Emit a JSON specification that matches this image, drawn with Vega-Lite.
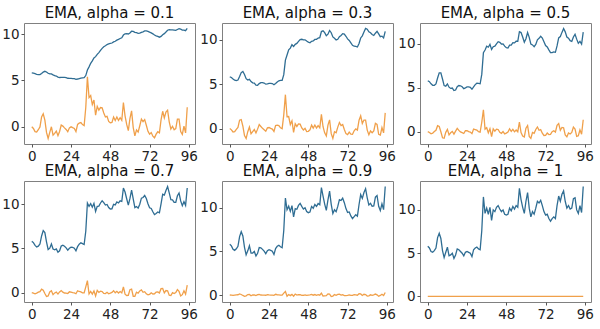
{
"$schema": "https://vega.github.io/schema/vega-lite/v6.json",
"padding": {"left": 1, "top": 5, "right": 4, "bottom": 0},
"data": {"values": [
{"x":0,"s":5.8,"t1":5.80,"r1":0,"t3":5.80,"r3":0,"t5":5.80,"r5":0,"t7":5.80,"r7":0,"t9":5.80,"r9":0,"r10":0},
{"x":1,"s":5.6,"t1":5.78,"r1":-0.18,"t3":5.74,"r3":-0.14,"t5":5.70,"r5":-0.10,"t7":5.66,"r7":-0.06,"t9":5.62,"r9":-0.02,"r10":0},
{"x":2,"s":5.2,"t1":5.72,"r1":-0.52,"t3":5.58,"r3":-0.38,"t5":5.45,"r5":-0.25,"t7":5.34,"r7":-0.14,"t9":5.24,"r9":-0.04,"r10":0},
{"x":3,"s":5.1,"t1":5.66,"r1":-0.56,"t3":5.44,"r3":-0.34,"t5":5.28,"r5":-0.18,"t7":5.17,"r7":-0.07,"t9":5.11,"r9":-0.01,"r10":0},
{"x":4,"s":5.3,"t1":5.62,"r1":-0.32,"t3":5.39,"r3":-0.09,"t5":5.29,"r5":0.01,"t7":5.26,"r7":0.04,"t9":5.28,"r9":0.02,"r10":0},
{"x":5,"s":5.6,"t1":5.62,"r1":-0.02,"t3":5.46,"r3":0.14,"t5":5.44,"r5":0.16,"t7":5.50,"r7":0.10,"t9":5.57,"r9":0.03,"r10":0},
{"x":6,"s":6.8,"t1":5.74,"r1":1.06,"t3":5.86,"r3":0.94,"t5":6.12,"r5":0.68,"t7":6.41,"r7":0.39,"t9":6.68,"r9":0.12,"r10":0},
{"x":7,"s":7.3,"t1":5.90,"r1":1.40,"t3":6.29,"r3":1.01,"t5":6.71,"r5":0.59,"t7":7.03,"r7":0.27,"t9":7.24,"r9":0.06,"r10":0},
{"x":8,"s":6.7,"t1":5.98,"r1":0.72,"t3":6.41,"r3":0.29,"t5":6.71,"r5":-0.01,"t7":6.80,"r7":-0.10,"t9":6.75,"r9":-0.05,"r10":0},
{"x":9,"s":5.3,"t1":5.91,"r1":-0.61,"t3":6.08,"r3":-0.78,"t5":6.00,"r5":-0.70,"t7":5.75,"r7":-0.45,"t9":5.45,"r9":-0.15,"r10":0},
{"x":10,"s":4.5,"t1":5.77,"r1":-1.27,"t3":5.61,"r3":-1.11,"t5":5.25,"r5":-0.75,"t7":4.88,"r7":-0.38,"t9":4.60,"r9":-0.09,"r10":0},
{"x":11,"s":5.1,"t1":5.70,"r1":-0.60,"t3":5.45,"r3":-0.35,"t5":5.18,"r5":-0.08,"t7":5.03,"r7":0.07,"t9":5.05,"r9":0.05,"r10":0},
{"x":12,"s":5.7,"t1":5.70,"r1":0.00,"t3":5.53,"r3":0.17,"t5":5.44,"r5":0.26,"t7":5.50,"r7":0.20,"t9":5.64,"r9":0.07,"r10":0},
{"x":13,"s":4.7,"t1":5.60,"r1":-0.90,"t3":5.28,"r3":-0.58,"t5":5.07,"r5":-0.37,"t7":4.94,"r7":-0.24,"t9":4.79,"r9":-0.09,"r10":0},
{"x":14,"s":4.8,"t1":5.52,"r1":-0.72,"t3":5.14,"r3":-0.34,"t5":4.93,"r5":-0.13,"t7":4.84,"r7":-0.04,"t9":4.80,"r9":0.00,"r10":0},
{"x":15,"s":5.0,"t1":5.47,"r1":-0.47,"t3":5.10,"r3":-0.10,"t5":4.97,"r5":0.03,"t7":4.95,"r7":0.05,"t9":4.98,"r9":0.02,"r10":0},
{"x":16,"s":4.4,"t1":5.36,"r1":-0.96,"t3":4.89,"r3":-0.49,"t5":4.68,"r5":-0.28,"t7":4.57,"r7":-0.17,"t9":4.46,"r9":-0.06,"r10":0},
{"x":17,"s":4.8,"t1":5.31,"r1":-0.51,"t3":4.86,"r3":-0.06,"t5":4.74,"r5":0.06,"t7":4.73,"r7":0.07,"t9":4.77,"r9":0.03,"r10":0},
{"x":18,"s":5.5,"t1":5.33,"r1":0.18,"t3":5.05,"r3":0.45,"t5":5.12,"r5":0.38,"t7":5.27,"r7":0.23,"t9":5.43,"r9":0.07,"r10":0},
{"x":19,"s":5.4,"t1":5.33,"r1":0.07,"t3":5.16,"r3":0.24,"t5":5.26,"r5":0.14,"t7":5.36,"r7":0.04,"t9":5.40,"r9":0.00,"r10":0},
{"x":20,"s":5.2,"t1":5.32,"r1":-0.12,"t3":5.17,"r3":0.03,"t5":5.23,"r5":-0.03,"t7":5.25,"r7":-0.05,"t9":5.22,"r9":-0.02,"r10":0},
{"x":21,"s":5.0,"t1":5.29,"r1":-0.29,"t3":5.12,"r3":-0.12,"t5":5.12,"r5":-0.12,"t7":5.07,"r7":-0.07,"t9":5.02,"r9":-0.02,"r10":0},
{"x":22,"s":4.7,"t1":5.23,"r1":-0.53,"t3":4.99,"r3":-0.29,"t5":4.91,"r5":-0.21,"t7":4.81,"r7":-0.11,"t9":4.73,"r9":-0.03,"r10":0},
{"x":23,"s":5.1,"t1":5.22,"r1":-0.12,"t3":5.03,"r3":0.08,"t5":5.00,"r5":0.10,"t7":5.01,"r7":0.09,"t9":5.06,"r9":0.04,"r10":0},
{"x":24,"s":5.2,"t1":5.21,"r1":-0.01,"t3":5.08,"r3":0.12,"t5":5.10,"r5":0.10,"t7":5.14,"r7":0.06,"t9":5.19,"r9":0.01,"r10":0},
{"x":25,"s":5.1,"t1":5.20,"r1":-0.10,"t3":5.08,"r3":0.02,"t5":5.10,"r5":0.00,"t7":5.11,"r7":-0.01,"t9":5.11,"r9":-0.01,"r10":0},
{"x":26,"s":5.0,"t1":5.18,"r1":-0.18,"t3":5.06,"r3":-0.06,"t5":5.05,"r5":-0.05,"t7":5.03,"r7":-0.03,"t9":5.01,"r9":-0.01,"r10":0},
{"x":27,"s":4.6,"t1":5.12,"r1":-0.52,"t3":4.92,"r3":-0.32,"t5":4.83,"r5":-0.23,"t7":4.73,"r7":-0.13,"t9":4.64,"r9":-0.04,"r10":0},
{"x":28,"s":5.4,"t1":5.15,"r1":0.25,"t3":5.07,"r3":0.34,"t5":5.11,"r5":0.29,"t7":5.20,"r7":0.20,"t9":5.32,"r9":0.08,"r10":0},
{"x":29,"s":5.6,"t1":5.20,"r1":0.40,"t3":5.23,"r3":0.38,"t5":5.36,"r5":0.24,"t7":5.48,"r7":0.12,"t9":5.57,"r9":0.03,"r10":0},
{"x":30,"s":5.7,"t1":5.25,"r1":0.45,"t3":5.37,"r3":0.33,"t5":5.53,"r5":0.17,"t7":5.63,"r7":0.07,"t9":5.69,"r9":0.01,"r10":0},
{"x":31,"s":5.5,"t1":5.27,"r1":0.23,"t3":5.41,"r3":0.09,"t5":5.51,"r5":-0.01,"t7":5.54,"r7":-0.04,"t9":5.52,"r9":-0.02,"r10":0},
{"x":32,"s":5.4,"t1":5.29,"r1":0.12,"t3":5.41,"r3":-0.01,"t5":5.46,"r5":-0.06,"t7":5.44,"r7":-0.04,"t9":5.41,"r9":-0.01,"r10":0},
{"x":33,"s":7.6,"t1":5.52,"r1":2.08,"t3":6.06,"r3":1.54,"t5":6.53,"r5":1.07,"t7":6.95,"r7":0.65,"t9":7.38,"r9":0.22,"r10":0},
{"x":34,"s":11.5,"t1":6.12,"r1":5.39,"t3":7.69,"r3":3.81,"t5":9.01,"r5":2.49,"t7":10.14,"r7":1.36,"t9":11.09,"r9":0.41,"r10":0},
{"x":35,"s":9.6,"t1":6.46,"r1":3.14,"t3":8.27,"r3":1.33,"t5":9.31,"r5":0.29,"t7":9.76,"r7":-0.16,"t9":9.75,"r9":-0.15,"r10":0},
{"x":36,"s":10.2,"t1":6.84,"r1":3.36,"t3":8.85,"r3":1.35,"t5":9.75,"r5":0.45,"t7":10.07,"r7":0.13,"t9":10.16,"r9":0.05,"r10":0},
{"x":37,"s":9.5,"t1":7.10,"r1":2.40,"t3":9.04,"r3":0.46,"t5":9.63,"r5":-0.13,"t7":9.67,"r7":-0.17,"t9":9.57,"r9":-0.07,"r10":0},
{"x":38,"s":10.3,"t1":7.42,"r1":2.88,"t3":9.42,"r3":0.88,"t5":9.96,"r5":0.34,"t7":10.11,"r7":0.19,"t9":10.23,"r9":0.07,"r10":0},
{"x":39,"s":8.8,"t1":7.56,"r1":1.24,"t3":9.23,"r3":-0.43,"t5":9.38,"r5":-0.58,"t7":9.19,"r7":-0.39,"t9":8.94,"r9":-0.14,"r10":0},
{"x":40,"s":10.0,"t1":7.81,"r1":2.20,"t3":9.46,"r3":0.54,"t5":9.69,"r5":0.31,"t7":9.76,"r7":0.24,"t9":9.89,"r9":0.11,"r10":0},
{"x":41,"s":9.8,"t1":8.00,"r1":1.80,"t3":9.57,"r3":0.24,"t5":9.75,"r5":0.05,"t7":9.79,"r7":0.01,"t9":9.81,"r9":-0.01,"r10":0},
{"x":42,"s":10.3,"t1":8.23,"r1":2.07,"t3":9.79,"r3":0.52,"t5":10.02,"r5":0.28,"t7":10.15,"r7":0.15,"t9":10.25,"r9":0.05,"r10":0},
{"x":43,"s":10.5,"t1":8.46,"r1":2.04,"t3":10.00,"r3":0.50,"t5":10.26,"r5":0.24,"t7":10.39,"r7":0.11,"t9":10.48,"r9":0.03,"r10":0},
{"x":44,"s":10.1,"t1":8.63,"r1":1.48,"t3":10.03,"r3":0.07,"t5":10.18,"r5":-0.08,"t7":10.19,"r7":-0.09,"t9":10.14,"r9":-0.04,"r10":0},
{"x":45,"s":9.8,"t1":8.74,"r1":1.06,"t3":9.96,"r3":-0.16,"t5":9.99,"r5":-0.19,"t7":9.92,"r7":-0.12,"t9":9.83,"r9":-0.03,"r10":0},
{"x":46,"s":10.0,"t1":8.87,"r1":1.13,"t3":9.97,"r3":0.03,"t5":10.00,"r5":0.01,"t7":9.98,"r7":0.03,"t9":9.98,"r9":0.02,"r10":0},
{"x":47,"s":9.5,"t1":8.93,"r1":0.57,"t3":9.83,"r3":-0.33,"t5":9.75,"r5":-0.25,"t7":9.64,"r7":-0.14,"t9":9.55,"r9":-0.05,"r10":0},
{"x":48,"s":9.4,"t1":8.98,"r1":0.42,"t3":9.70,"r3":-0.30,"t5":9.57,"r5":-0.17,"t7":9.47,"r7":-0.07,"t9":9.42,"r9":-0.02,"r10":0},
{"x":49,"s":9.5,"t1":9.03,"r1":0.47,"t3":9.64,"r3":-0.14,"t5":9.54,"r5":-0.04,"t7":9.49,"r7":0.01,"t9":9.49,"r9":0.01,"r10":0},
{"x":50,"s":10.2,"t1":9.15,"r1":1.05,"t3":9.81,"r3":0.39,"t5":9.87,"r5":0.33,"t7":9.99,"r7":0.21,"t9":10.13,"r9":0.07,"r10":0},
{"x":51,"s":9.9,"t1":9.22,"r1":0.68,"t3":9.84,"r3":0.06,"t5":9.88,"r5":0.02,"t7":9.93,"r7":-0.03,"t9":9.92,"r9":-0.02,"r10":0},
{"x":52,"s":10.4,"t1":9.34,"r1":1.06,"t3":10.01,"r3":0.40,"t5":10.14,"r5":0.26,"t7":10.26,"r7":0.14,"t9":10.35,"r9":0.05,"r10":0},
{"x":53,"s":10.1,"t1":9.42,"r1":0.68,"t3":10.03,"r3":0.07,"t5":10.12,"r5":-0.02,"t7":10.15,"r7":-0.05,"t9":10.13,"r9":-0.03,"r10":0},
{"x":54,"s":10.5,"t1":9.52,"r1":0.98,"t3":10.17,"r3":0.33,"t5":10.31,"r5":0.19,"t7":10.39,"r7":0.11,"t9":10.46,"r9":0.04,"r10":0},
{"x":55,"s":10.3,"t1":9.60,"r1":0.70,"t3":10.21,"r3":0.09,"t5":10.31,"r5":-0.01,"t7":10.33,"r7":-0.03,"t9":10.32,"r9":-0.02,"r10":0},
{"x":56,"s":12.5,"t1":9.89,"r1":2.61,"t3":10.90,"r3":1.60,"t5":11.40,"r5":1.10,"t7":11.85,"r7":0.65,"t9":12.28,"r9":0.22,"r10":0},
{"x":57,"s":11.2,"t1":10.02,"r1":1.18,"t3":10.99,"r3":0.21,"t5":11.30,"r5":-0.10,"t7":11.39,"r7":-0.19,"t9":11.31,"r9":-0.11,"r10":0},
{"x":58,"s":10.3,"t1":10.05,"r1":0.25,"t3":10.78,"r3":-0.48,"t5":10.80,"r5":-0.50,"t7":10.63,"r7":-0.33,"t9":10.40,"r9":-0.10,"r10":0},
{"x":59,"s":9.6,"t1":10.01,"r1":-0.41,"t3":10.43,"r3":-0.83,"t5":10.20,"r5":-0.60,"t7":9.91,"r7":-0.31,"t9":9.68,"r9":-0.08,"r10":0},
{"x":60,"s":11.0,"t1":10.11,"r1":0.90,"t3":10.60,"r3":0.40,"t5":10.60,"r5":0.40,"t7":10.67,"r7":0.33,"t9":10.87,"r9":0.13,"r10":0},
{"x":61,"s":12.0,"t1":10.30,"r1":1.71,"t3":11.02,"r3":0.98,"t5":11.30,"r5":0.70,"t7":11.60,"r7":0.40,"t9":11.89,"r9":0.11,"r10":0},
{"x":62,"s":10.2,"t1":10.29,"r1":-0.09,"t3":10.77,"r3":-0.57,"t5":10.75,"r5":-0.55,"t7":10.62,"r7":-0.42,"t9":10.37,"r9":-0.17,"r10":0},
{"x":63,"s":9.2,"t1":10.18,"r1":-0.98,"t3":10.30,"r3":-1.10,"t5":9.98,"r5":-0.78,"t7":9.63,"r7":-0.43,"t9":9.32,"r9":-0.12,"r10":0},
{"x":64,"s":9.8,"t1":10.14,"r1":-0.34,"t3":10.15,"r3":-0.35,"t5":9.89,"r5":-0.09,"t7":9.75,"r7":0.05,"t9":9.75,"r9":0.05,"r10":0},
{"x":65,"s":9.5,"t1":10.08,"r1":-0.58,"t3":9.96,"r3":-0.46,"t5":9.69,"r5":-0.19,"t7":9.57,"r7":-0.07,"t9":9.53,"r9":-0.03,"r10":0},
{"x":66,"s":10.2,"t1":10.09,"r1":0.11,"t3":10.03,"r3":0.17,"t5":9.95,"r5":0.25,"t7":10.01,"r7":0.19,"t9":10.13,"r9":0.07,"r10":0},
{"x":67,"s":11.0,"t1":10.18,"r1":0.82,"t3":10.32,"r3":0.68,"t5":10.47,"r5":0.53,"t7":10.70,"r7":0.30,"t9":10.91,"r9":0.09,"r10":0},
{"x":68,"s":10.8,"t1":10.24,"r1":0.56,"t3":10.46,"r3":0.34,"t5":10.64,"r5":0.16,"t7":10.77,"r7":0.03,"t9":10.81,"r9":-0.01,"r10":0},
{"x":69,"s":11.1,"t1":10.33,"r1":0.77,"t3":10.66,"r3":0.45,"t5":10.87,"r5":0.23,"t7":11.00,"r7":0.10,"t9":11.07,"r9":0.03,"r10":0},
{"x":70,"s":10.5,"t1":10.34,"r1":0.16,"t3":10.61,"r3":-0.11,"t5":10.68,"r5":-0.18,"t7":10.65,"r7":-0.15,"t9":10.56,"r9":-0.06,"r10":0},
{"x":71,"s":9.8,"t1":10.29,"r1":-0.49,"t3":10.37,"r3":-0.57,"t5":10.24,"r5":-0.44,"t7":10.06,"r7":-0.26,"t9":9.88,"r9":-0.08,"r10":0},
{"x":72,"s":9.4,"t1":10.20,"r1":-0.80,"t3":10.08,"r3":-0.68,"t5":9.82,"r5":-0.42,"t7":9.60,"r7":-0.20,"t9":9.45,"r9":-0.05,"r10":0},
{"x":73,"s":9.5,"t1":10.13,"r1":-0.63,"t3":9.90,"r3":-0.40,"t5":9.66,"r5":-0.16,"t7":9.53,"r7":-0.03,"t9":9.50,"r9":0.01,"r10":0},
{"x":74,"s":9.0,"t1":10.02,"r1":-1.02,"t3":9.63,"r3":-0.63,"t5":9.33,"r5":-0.33,"t7":9.16,"r7":-0.16,"t9":9.05,"r9":-0.05,"r10":0},
{"x":75,"s":8.7,"t1":9.89,"r1":-1.19,"t3":9.35,"r3":-0.65,"t5":9.02,"r5":-0.32,"t7":8.84,"r7":-0.14,"t9":8.74,"r9":-0.04,"r10":0},
{"x":76,"s":9.0,"t1":9.80,"r1":-0.80,"t3":9.25,"r3":-0.25,"t5":9.01,"r5":-0.01,"t7":8.95,"r7":0.05,"t9":8.97,"r9":0.03,"r10":0},
{"x":77,"s":9.2,"t1":9.74,"r1":-0.54,"t3":9.23,"r3":-0.03,"t5":9.10,"r5":0.10,"t7":9.13,"r7":0.08,"t9":9.18,"r9":0.02,"r10":0},
{"x":78,"s":9.0,"t1":9.66,"r1":-0.66,"t3":9.16,"r3":-0.16,"t5":9.05,"r5":-0.05,"t7":9.04,"r7":-0.04,"t9":9.02,"r9":-0.02,"r10":0},
{"x":79,"s":10.5,"t1":9.75,"r1":0.75,"t3":9.56,"r3":0.94,"t5":9.78,"r5":0.72,"t7":10.06,"r7":0.44,"t9":10.35,"r9":0.15,"r10":0},
{"x":80,"s":11.6,"t1":9.93,"r1":1.67,"t3":10.18,"r3":1.43,"t5":10.69,"r5":0.91,"t7":11.14,"r7":0.46,"t9":11.48,"r9":0.12,"r10":0},
{"x":81,"s":11.0,"t1":10.04,"r1":0.96,"t3":10.42,"r3":0.58,"t5":10.84,"r5":0.16,"t7":11.04,"r7":-0.04,"t9":11.05,"r9":-0.05,"r10":0},
{"x":82,"s":11.8,"t1":10.22,"r1":1.59,"t3":10.84,"r3":0.96,"t5":11.32,"r5":0.48,"t7":11.57,"r7":0.23,"t9":11.73,"r9":0.08,"r10":0},
{"x":83,"s":12.2,"t1":10.41,"r1":1.79,"t3":11.25,"r3":0.96,"t5":11.76,"r5":0.44,"t7":12.01,"r7":0.19,"t9":12.15,"r9":0.05,"r10":0},
{"x":84,"s":11.0,"t1":10.47,"r1":0.53,"t3":11.17,"r3":-0.17,"t5":11.38,"r5":-0.38,"t7":11.30,"r7":-0.30,"t9":11.12,"r9":-0.12,"r10":0},
{"x":85,"s":10.2,"t1":10.45,"r1":-0.25,"t3":10.88,"r3":-0.68,"t5":10.79,"r5":-0.59,"t7":10.53,"r7":-0.33,"t9":10.29,"r9":-0.09,"r10":0},
{"x":86,"s":10.5,"t1":10.45,"r1":0.05,"t3":10.77,"r3":-0.27,"t5":10.65,"r5":-0.15,"t7":10.51,"r7":-0.01,"t9":10.48,"r9":0.02,"r10":0},
{"x":87,"s":10.1,"t1":10.42,"r1":-0.32,"t3":10.57,"r3":-0.47,"t5":10.37,"r5":-0.27,"t7":10.22,"r7":-0.12,"t9":10.14,"r9":-0.04,"r10":0},
{"x":88,"s":10.2,"t1":10.39,"r1":-0.19,"t3":10.46,"r3":-0.26,"t5":10.29,"r5":-0.09,"t7":10.21,"r7":-0.01,"t9":10.19,"r9":0.01,"r10":0},
{"x":89,"s":11.3,"t1":10.49,"r1":0.82,"t3":10.71,"r3":0.59,"t5":10.79,"r5":0.51,"t7":10.97,"r7":0.33,"t9":11.19,"r9":0.11,"r10":0},
{"x":90,"s":11.4,"t1":10.58,"r1":0.82,"t3":10.92,"r3":0.48,"t5":11.10,"r5":0.30,"t7":11.27,"r7":0.13,"t9":11.38,"r9":0.02,"r10":0},
{"x":91,"s":10.0,"t1":10.52,"r1":-0.52,"t3":10.64,"r3":-0.64,"t5":10.55,"r5":-0.55,"t7":10.38,"r7":-0.38,"t9":10.14,"r9":-0.14,"r10":0},
{"x":92,"s":9.6,"t1":10.43,"r1":-0.83,"t3":10.33,"r3":-0.73,"t5":10.07,"r5":-0.47,"t7":9.84,"r7":-0.24,"t9":9.65,"r9":-0.05,"r10":0},
{"x":93,"s":10.5,"t1":10.43,"r1":0.07,"t3":10.38,"r3":0.12,"t5":10.29,"r5":0.21,"t7":10.30,"r7":0.20,"t9":10.42,"r9":0.08,"r10":0},
{"x":94,"s":9.7,"t1":10.36,"r1":-0.66,"t3":10.18,"r3":-0.48,"t5":9.99,"r5":-0.29,"t7":9.88,"r7":-0.18,"t9":9.77,"r9":-0.07,"r10":0},
{"x":95,"s":12.7,"t1":10.60,"r1":2.11,"t3":10.93,"r3":1.77,"t5":11.35,"r5":1.35,"t7":11.85,"r7":0.85,"t9":12.41,"r9":0.29,"r10":0}
]},
"columns": 3,
"spacing": {"row": 0, "column": 1},
"resolve": {"scale": {"color": "shared"}, "legend": {"color": "shared"}},
"concat": [
{"width": 171, "height": 121, "title": "EMA, alpha = 0.1",
 "encoding": {"x": {"field": "x", "type": "quantitative", "scale": {"domain": [-4.75, 99.75], "nice": false, "zero": false}, "axis": {"values": [0, 24, 48, 72, 96], "title": null}}},
 "layer": [
  {"mark": {"type": "line", "strokeWidth": 1.3}, "encoding": {"y": {"field": "t1", "type": "quantitative", "scale": {"domain": [-1.86, 11.19], "nice": false, "zero": false}, "axis": {"values": [0, 5, 10], "title": null}}, "color": {"datum": "Trend", "type": "nominal", "scale": {"domain": ["Trend", "Seasonality"], "range": ["#2f6d93", "#f0a04a"]}, "legend": {"orient": "none", "legendX": 182, "legendY": 318, "direction": "horizontal", "title": null, "symbolType": "stroke", "symbolSize": 784, "symbolStrokeWidth": 1.5, "labelFontSize": 13.5, "labelOffset": 11, "columnPadding": 13, "padding": 0}}}},
  {"mark": {"type": "line", "strokeWidth": 1.3}, "encoding": {"y": {"field": "r1", "type": "quantitative", "scale": {"domain": [-1.86, 11.19], "nice": false, "zero": false}, "axis": {"values": [0, 5, 10], "title": null}}, "color": {"datum": "Seasonality", "type": "nominal"}}}
 ]},
{"width": 171, "height": 121, "title": "EMA, alpha = 0.3",
 "encoding": {"x": {"field": "x", "type": "quantitative", "scale": {"domain": [-4.75, 99.75], "nice": false, "zero": false}, "axis": {"values": [0, 24, 48, 72, 96], "title": null}}},
 "layer": [
  {"mark": {"type": "line", "strokeWidth": 1.3}, "encoding": {"y": {"field": "t3", "type": "quantitative", "scale": {"domain": [-1.73, 11.86], "nice": false, "zero": false}, "axis": {"values": [0, 5, 10], "title": null}}, "color": {"datum": "Trend", "type": "nominal"}}},
  {"mark": {"type": "line", "strokeWidth": 1.3}, "encoding": {"y": {"field": "r3", "type": "quantitative", "scale": {"domain": [-1.73, 11.86], "nice": false, "zero": false}, "axis": {"values": [0, 5, 10], "title": null}}, "color": {"datum": "Seasonality", "type": "nominal"}}}
 ]},
{"width": 171, "height": 121, "title": "EMA, alpha = 0.5",
 "encoding": {"x": {"field": "x", "type": "quantitative", "scale": {"domain": [-4.75, 99.75], "nice": false, "zero": false}, "axis": {"values": [0, 24, 48, 72, 96], "title": null}}},
 "layer": [
  {"mark": {"type": "line", "strokeWidth": 1.3}, "encoding": {"y": {"field": "t5", "type": "quantitative", "scale": {"domain": [-1.41, 12.39], "nice": false, "zero": false}, "axis": {"values": [0, 5, 10], "title": null}}, "color": {"datum": "Trend", "type": "nominal"}}},
  {"mark": {"type": "line", "strokeWidth": 1.3}, "encoding": {"y": {"field": "r5", "type": "quantitative", "scale": {"domain": [-1.41, 12.39], "nice": false, "zero": false}, "axis": {"values": [0, 5, 10], "title": null}}, "color": {"datum": "Seasonality", "type": "nominal"}}}
 ]},
{"width": 171, "height": 121, "title": "EMA, alpha = 0.7",
 "encoding": {"x": {"field": "x", "type": "quantitative", "scale": {"domain": [-4.75, 99.75], "nice": false, "zero": false}, "axis": {"values": [0, 24, 48, 72, 96], "title": null}}},
 "layer": [
  {"mark": {"type": "line", "strokeWidth": 1.3}, "encoding": {"y": {"field": "t7", "type": "quantitative", "scale": {"domain": [-1.07, 12.64], "nice": false, "zero": false}, "axis": {"values": [0, 5, 10], "title": null}}, "color": {"datum": "Trend", "type": "nominal"}}},
  {"mark": {"type": "line", "strokeWidth": 1.3}, "encoding": {"y": {"field": "r7", "type": "quantitative", "scale": {"domain": [-1.07, 12.64], "nice": false, "zero": false}, "axis": {"values": [0, 5, 10], "title": null}}, "color": {"datum": "Seasonality", "type": "nominal"}}}
 ]},
{"width": 171, "height": 121, "title": "EMA, alpha = 0.9",
 "encoding": {"x": {"field": "x", "type": "quantitative", "scale": {"domain": [-4.75, 99.75], "nice": false, "zero": false}, "axis": {"values": [0, 24, 48, 72, 96], "title": null}}},
 "layer": [
  {"mark": {"type": "line", "strokeWidth": 1.3}, "encoding": {"y": {"field": "t9", "type": "quantitative", "scale": {"domain": [-0.8, 13.04], "nice": false, "zero": false}, "axis": {"values": [0, 5, 10], "title": null}}, "color": {"datum": "Trend", "type": "nominal"}}},
  {"mark": {"type": "line", "strokeWidth": 1.3}, "encoding": {"y": {"field": "r9", "type": "quantitative", "scale": {"domain": [-0.8, 13.04], "nice": false, "zero": false}, "axis": {"values": [0, 5, 10], "title": null}}, "color": {"datum": "Seasonality", "type": "nominal"}}}
 ]},
{"width": 171, "height": 121, "title": "EMA, alpha = 1",
 "encoding": {"x": {"field": "x", "type": "quantitative", "scale": {"domain": [-4.75, 99.75], "nice": false, "zero": false}, "axis": {"values": [0, 24, 48, 72, 96], "title": null}}},
 "layer": [
  {"mark": {"type": "line", "strokeWidth": 1.3}, "encoding": {"y": {"field": "s", "type": "quantitative", "scale": {"domain": [-0.64, 13.34], "nice": false, "zero": false}, "axis": {"values": [0, 5, 10], "title": null}}, "color": {"datum": "Trend", "type": "nominal"}}},
  {"mark": {"type": "line", "strokeWidth": 1.3}, "encoding": {"y": {"field": "r10", "type": "quantitative", "scale": {"domain": [-0.64, 13.34], "nice": false, "zero": false}, "axis": {"values": [0, 5, 10], "title": null}}, "color": {"datum": "Seasonality", "type": "nominal"}}}
 ]}
],
"config": {
 "font": "DejaVu Sans",
 "view": {"stroke": "#808080", "strokeWidth": 1},
 "axis": {"domain": false, "grid": false, "ticks": true, "tickColor": "#555555", "tickSize": 3, "labelFontSize": 13.5, "labelColor": "#222222", "labelPadding": 2, "labelFont": "DejaVu Sans"},
 "legend": {"labelFont": "DejaVu Sans", "labelColor": "#222222"},
 "title": {"fontSize": 15, "fontWeight": "normal", "color": "#111111", "offset": 2, "anchor": "middle", "font": "DejaVu Sans"}
}
}
